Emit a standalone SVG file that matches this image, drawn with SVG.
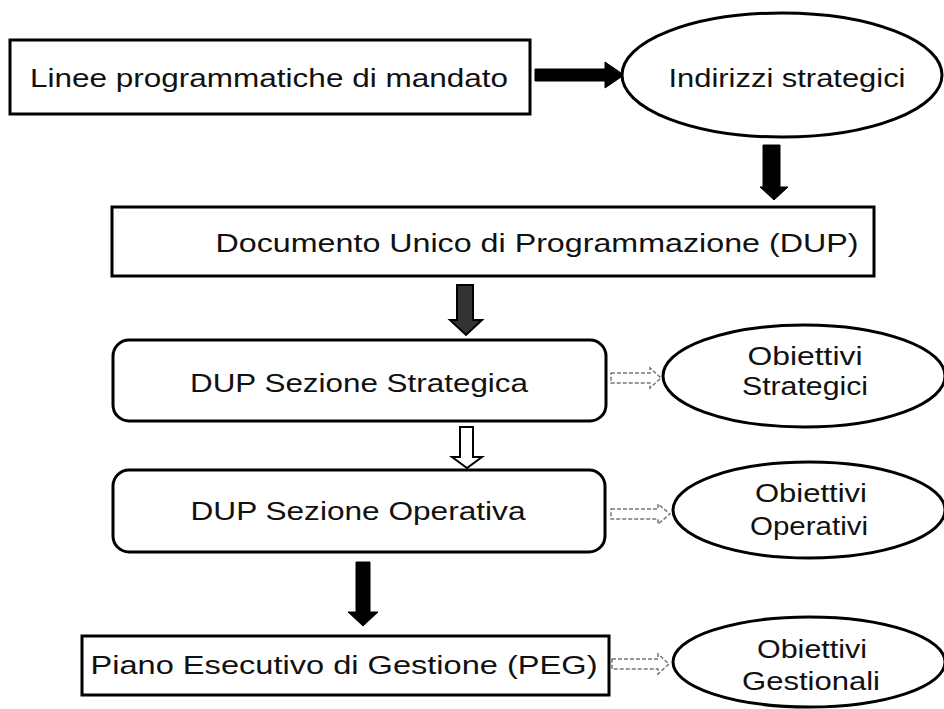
<svg xmlns="http://www.w3.org/2000/svg" width="944" height="709" viewBox="0 0 944 709">
<style>
.box{fill:#fff;stroke:#000;stroke-width:3}
.ell{fill:#fff;stroke:#000;stroke-width:3}
.t{font-family:"Liberation Sans",Arial,sans-serif;font-size:25px;fill:#111;text-anchor:middle}
.solid{fill:#000;stroke:#000;stroke-width:1}
.dark{fill:#333;stroke:#000;stroke-width:2}
.hollow{fill:#fff;stroke:#000;stroke-width:2}
.light{fill:#fff;stroke:#777;stroke-width:1.5;stroke-dasharray:4 2}
</style>
<rect width="944" height="709" fill="#fff"/>
<g id="connectors">
<polygon class="solid" points="535,69 605,69 605,62 624,75 605,88 605,81 535,81"/>
<polygon class="solid" points="763,145 780,145 780,187 788,187 774,200 760,187 763,187"/>
<polygon class="dark" points="457,285 473,285 473,320 482,320 466,335 450,320 457,320"/>
<polygon class="hollow" points="460,427 473,427 473,457 482,457 467,468 452,457 460,457"/>
<polygon class="solid" points="356,562 370,562 370,612 378,612 363,626 348,612 356,612"/>
<polygon class="light" points="611,373 650,373 650,368 661,378 650,388 650,383 611,383"/>
<polygon class="light" points="611,509 658,509 658,504 670,514 658,524 658,519 611,519"/>
<polygon class="light" points="612,659 658,659 658,654 669,664 658,674 658,669 612,669"/>
</g>
<g id="n1"><rect class="box" x="10" y="40" width="520" height="74"/>
<text class="t" x="269" y="87" textLength="478" lengthAdjust="spacingAndGlyphs">Linee programmatiche di mandato</text></g>
<g id="n2"><ellipse class="ell" cx="782" cy="75" rx="160" ry="62"/>
<text class="t" x="787" y="87" textLength="237" lengthAdjust="spacingAndGlyphs">Indirizzi strategici</text></g>
<g id="n3"><rect class="box" x="112" y="207" width="762" height="69"/>
<text class="t" x="537" y="252" textLength="643" lengthAdjust="spacingAndGlyphs">Documento Unico di Programmazione (DUP)</text></g>
<g id="n4"><rect class="box" x="113" y="340" width="493" height="81" rx="16"/>
<text class="t" x="359" y="392" textLength="338" lengthAdjust="spacingAndGlyphs">DUP Sezione Strategica</text></g>
<g id="n5"><ellipse class="ell" cx="804" cy="376" rx="141" ry="51"/>
<text class="t" x="805" y="365" textLength="115" lengthAdjust="spacingAndGlyphs">Obiettivi</text>
<text class="t" x="805" y="395" textLength="126" lengthAdjust="spacingAndGlyphs">Strategici</text></g>
<g id="n6"><rect class="box" x="113" y="470" width="492" height="82" rx="16"/>
<text class="t" x="358" y="520" textLength="335" lengthAdjust="spacingAndGlyphs">DUP Sezione Operativa</text></g>
<g id="n7"><ellipse class="ell" cx="809" cy="510" rx="136" ry="48"/>
<text class="t" x="811" y="502" textLength="112" lengthAdjust="spacingAndGlyphs">Obiettivi</text>
<text class="t" x="809" y="535" textLength="118" lengthAdjust="spacingAndGlyphs">Operativi</text></g>
<g id="n8"><rect class="box" x="82" y="636" width="527" height="59"/>
<text class="t" x="344" y="674" textLength="507" lengthAdjust="spacingAndGlyphs">Piano Esecutivo di Gestione (PEG)</text></g>
<g id="n9"><ellipse class="ell" cx="809" cy="662" rx="136" ry="45"/>
<text class="t" x="812" y="658" textLength="110" lengthAdjust="spacingAndGlyphs">Obiettivi</text>
<text class="t" x="811" y="690" textLength="138" lengthAdjust="spacingAndGlyphs">Gestionali</text></g>
</svg>
